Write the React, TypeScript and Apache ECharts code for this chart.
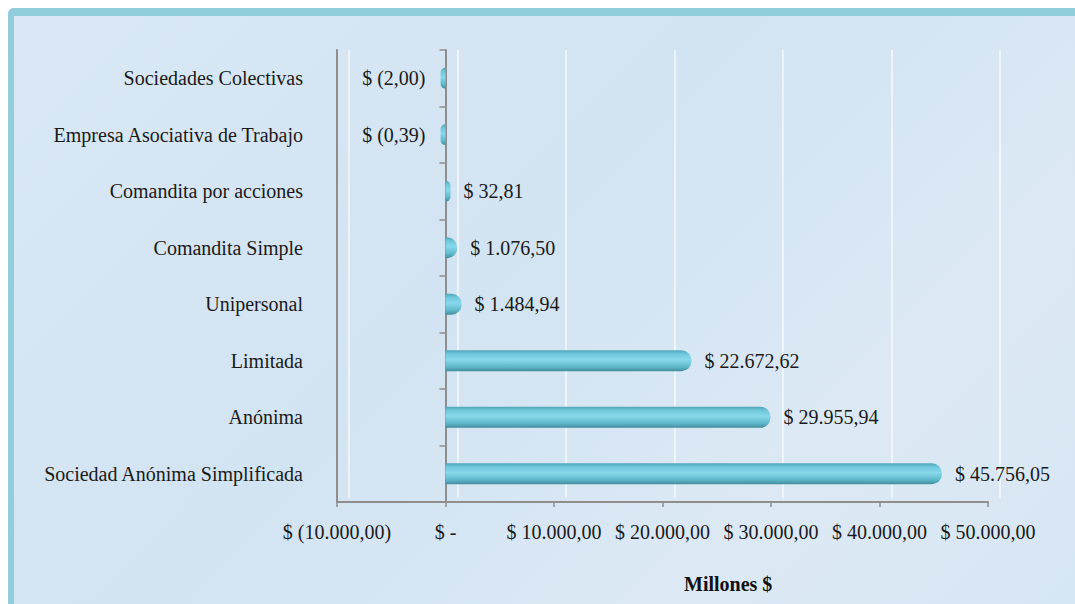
import React, { useEffect, useRef } from "react";
import * as echarts from "echarts";

const categories = [
  "Sociedad Anónima Simplificada",
  "Anónima",
  "Limitada",
  "Unipersonal",
  "Comandita Simple",
  "Comandita por acciones",
  "Empresa Asociativa de Trabajo",
  "Sociedades Colectivas",
];
const values = [45756.05, 29955.94, 22672.62, 1484.94, 1076.5, 32.81, -0.39, -2.0];
const axisMin = -10000;
const axisMax = 50000;
const axisStep = 10000;
const axisTitle = "Millones $";

const FONT = "'Liberation Serif', 'DejaVu Serif', serif";

function fmtNum(v: number, dec: number): string {
  const abs = Math.abs(v);
  const fixed = abs.toFixed(dec);
  const [ip, dp] = fixed.split(".");
  const withSep = ip.replace(/\B(?=(\d{3})+(?!\d))/g, ".");
  return dp !== undefined ? withSep + "," + dp : withSep;
}
function money(v: number): string {
  if (v === 0) return "$ -";
  if (v < 0) return "$ (" + fmtNum(v, 2) + ")";
  return "$ " + fmtNum(v, 2);
}

export default function App() {
  const ref = useRef<HTMLDivElement>(null);
  useEffect(() => {
    if (!ref.current) return;
    const chart = echarts.init(ref.current, null, { renderer: "svg" });
    const barColor = new echarts.graphic.LinearGradient(0, 0, 0, 1, [
      { offset: 0, color: "#4fa5b8" },
      { offset: 0.18, color: "#70c8dc" },
      { offset: 0.45, color: "#88d8ec" },
      { offset: 0.8, color: "#5db6ca" },
      { offset: 1, color: "#428b9b" },
    ]);
    const axisGray = "#8e8e8e";
    chart.setOption({
      animation: false,
      backgroundColor: "transparent",
      grid: [
        { left: 337, right: 87, top: 50, bottom: 102 },
        { left: 349, right: 75, top: 50, bottom: 106 },
      ],
      xAxis: [
        {
          type: "value",
          gridIndex: 0,
          min: axisMin,
          max: axisMax,
          interval: axisStep,
          axisLine: { show: true, onZero: false, lineStyle: { color: axisGray, width: 2 } },
          axisTick: { show: true, length: 5, lineStyle: { color: axisGray, width: 1.5 } },
          splitLine: { show: false },
          axisLabel: {
            margin: 20,
            fontSize: 20,
            fontFamily: FONT,
            color: "#1a1a1a",
            formatter: (v: number) => money(v),
          },
        },
        {
          type: "value",
          gridIndex: 1,
          min: axisMin,
          max: axisMax,
          interval: axisStep,
          axisLine: { show: false },
          axisTick: { show: false },
          axisLabel: { show: false },
          splitLine: { show: true, lineStyle: { color: "rgba(255,255,255,0.55)", width: 2 } },
        },
      ],
      yAxis: [
        {
          type: "category",
          gridIndex: 0,
          data: categories,
          axisLine: { show: true, onZero: true, lineStyle: { color: axisGray, width: 2 } },
          axisTick: { show: true, length: 6, lineStyle: { color: axisGray, width: 1.5 } },
          axisLabel: { show: false },
          splitLine: { show: false },
        },
        {
          type: "category",
          gridIndex: 0,
          position: "left",
          data: categories,
          axisLine: { show: true, onZero: false, lineStyle: { color: axisGray, width: 2 } },
          axisTick: { show: false },
          axisLabel: {
            margin: 34,
            fontSize: 20,
            fontFamily: FONT,
            color: "#1a1a1a",
          },
          splitLine: { show: false },
        },
        {
          type: "category",
          gridIndex: 1,
          data: categories,
          show: false,
        },
      ],
      series: [
        {
          type: "bar",
          xAxisIndex: 0,
          yAxisIndex: 0,
          barWidth: 21,
          barMinHeight: 5,
          data: values.map((v) => ({
            value: v,
            itemStyle: {
              color: barColor,
              borderRadius: v >= 0 ? [0, 10, 10, 0] : [10, 0, 0, 10],
            },
            label: {
              show: true,
              position: v >= 0 ? "right" : "left",
              distance: v >= 0 ? 13 : 15,
            },
          })),
          label: {
            show: true,
            fontSize: 20,
            fontFamily: FONT,
            color: "#1a1a1a",
            formatter: (p: any) => money(p.value),
          },
        },
      ],
      graphic: [
        {
          type: "text",
          left: 684,
          top: 574,
          style: {
            text: axisTitle,
            font: "bold 20px " + FONT,
            fill: "#111",
          },
        },
      ],
    });
    return () => chart.dispose();
  }, []);
  return (
    <div style={{ position: "fixed", left: 0, top: 0, width: 1075, height: 604, background: "#fff", overflow: "hidden" }}>
      <div
        style={{
          position: "absolute",
          left: 8,
          top: 8,
          width: 1100,
          height: 700,
          boxSizing: "border-box",
          borderTop: "8px solid #92cddc",
          borderLeft: "6px solid #92cddc",
          borderTopLeftRadius: 6,
          background: "linear-gradient(135deg, #dae8f5 0%, #d2e3f1 40%, #dce9f5 70%, #d5e5f2 100%)",
        }}
      />
      <div ref={ref} style={{ position: "absolute", left: 0, top: 0, width: 1075, height: 604 }} />
    </div>
  );
}
